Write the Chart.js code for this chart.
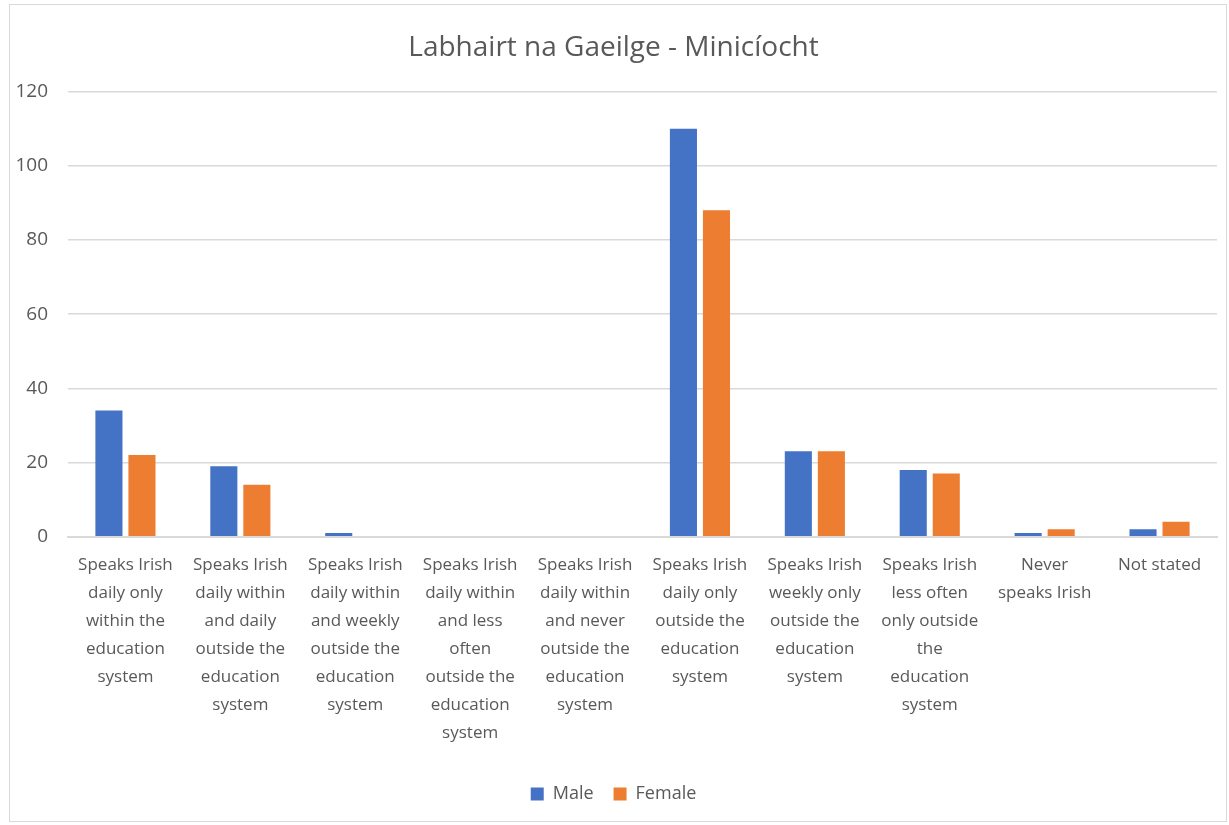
<!DOCTYPE html>
<html lang="en">
<head>
    <meta charset="UTF-8">
    <title>Labhairt na Gaeilge - Minicíocht</title>
    <script src="https://cdn.jsdelivr.net/npm/chart.js"></script>
    <style>
        html, body { margin: 0; padding: 0; background: #fff; }
        .frame {
            position: absolute; left: 9px; top: 4px;
            width: 1218px; height: 818px;
            border: 1px solid #d9d9d9; box-sizing: border-box;
        }
        .wrap { position: absolute; left: 0; top: 0; width: 1229px; height: 825px; }
    </style>
</head>
<body>
    <div class="frame"></div>
    <div class="wrap"><canvas id="irishChart"></canvas></div>

    <script>
        const categories = [
            ['Speaks Irish', 'daily only', 'within the', 'education', 'system'],
            ['Speaks Irish', 'daily within', 'and daily', 'outside the', 'education', 'system'],
            ['Speaks Irish', 'daily within', 'and weekly', 'outside the', 'education', 'system'],
            ['Speaks Irish', 'daily within', 'and less', 'often', 'outside the', 'education', 'system'],
            ['Speaks Irish', 'daily within', 'and never', 'outside the', 'education', 'system'],
            ['Speaks Irish', 'daily only', 'outside the', 'education', 'system'],
            ['Speaks Irish', 'weekly only', 'outside the', 'education', 'system'],
            ['Speaks Irish', 'less often', 'only outside', 'the', 'education', 'system'],
            ['Never', 'speaks Irish'],
            ['Not stated']
        ];
        const maleValues = [34, 19, 1, 0, 0, 110, 23, 18, 1, 2];
        const femaleValues = [22, 14, 0, 0, 0, 88, 23, 17, 2, 4];
        const yTicks = [0, 20, 40, 60, 80, 100, 120];

        const fontFamily = "'Open Sans', 'Liberation Sans', sans-serif";

        const ctx = document.getElementById('irishChart').getContext('2d');
        new Chart(ctx, {
            type: 'bar',
            data: {
                labels: categories,
                datasets: [
                    { label: 'Male', data: maleValues, backgroundColor: '#4472c4' },
                    { label: 'Female', data: femaleValues, backgroundColor: '#ed7d31' }
                ]
            },
            options: {
                responsive: true,
                maintainAspectRatio: false,
                animation: false,
                categoryPercentage: 0.575,
                barPercentage: 0.82,
                layout: { padding: { left: 10, right: 12, top: 31, bottom: 12 } },
                plugins: {
                    title: {
                        display: true,
                        text: 'Labhairt na Gaeilge - Minicíocht',
                        color: '#595959',
                        font: { family: fontFamily, size: 28, weight: 'normal' },
                        padding: { top: 0, bottom: 27 }
                    },
                    legend: {
                        position: 'bottom',
                        labels: {
                            color: '#595959',
                            font: { family: fontFamily, size: 18 },
                            boxWidth: 13, boxHeight: 13,
                            padding: 20
                        }
                    },
                    tooltip: { enabled: false }
                },
                scales: {
                    x: {
                        afterFit: function(axis) { axis.height = axis.height + 12; },
                        grid: { display: false },
                        border: { color: '#d9d9d9', width: 2 },
                        ticks: {
                            color: '#595959',
                            font: { family: fontFamily, size: 17, lineHeight: 1.65 },
                            maxRotation: 0, minRotation: 0,
                            autoSkip: false,
                            padding: 6
                        }
                    },
                    y: {
                        min: 0, max: 120,
                        afterFit: function(axis) { axis.width = 58; },
                        afterBuildTicks: function(axis) {
                            axis.ticks = yTicks.map(function(v) { return { value: v }; });
                        },
                        grid: { color: '#d9d9d9', lineWidth: 1.5, drawTicks: false },
                        border: { display: false },
                        ticks: {
                            color: '#595959',
                            font: { family: fontFamily, size: 19 },
                            padding: 20
                        }
                    }
                }
            }
        });
    </script>
</body>
</html>
